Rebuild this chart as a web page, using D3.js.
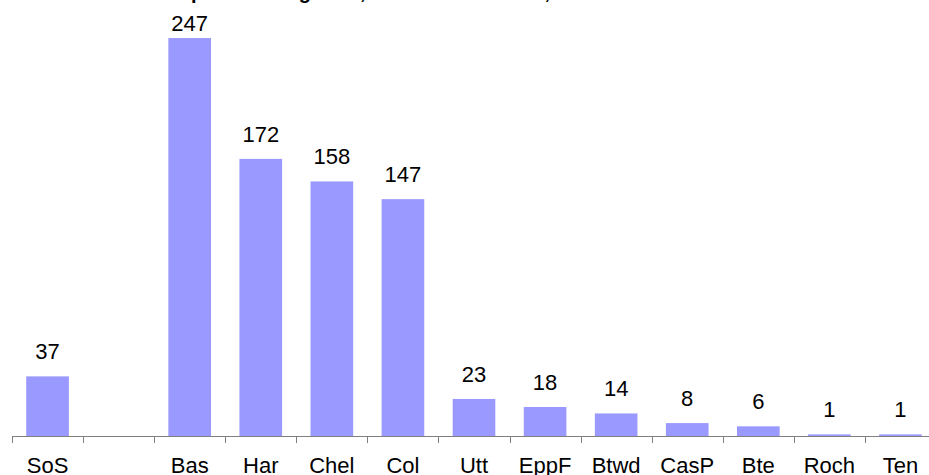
<!DOCTYPE html>
<html>
<head>
<meta charset="utf-8">
<script src="https://cdn.jsdelivr.net/npm/d3@7"></script>
<style>
  body { margin: 0; background: #fff; }
  svg { display: block; font-family: Arial, "Liberation Sans", sans-serif; }
</style>
</head>
<body>
<div id="chart"></div>
<script>
// data
const categories = ["SoS", "", "Bas", "Har", "Chel", "Col", "Utt", "EppF", "Btwd", "CasP", "Bte", "Roch", "Ten"]
const values = [37, null, 247, 172, 158, 147, 23, 18, 14, 8, 6, 1, 1]
const title = "Home improvement grants, 2008/09 to 2010/11, Essex districts"

const width = 929
const height = 475
const barColor = "#9999ff"
const axisColor = "#808080"

const svg = d3.select("#chart").append("svg")
  .attr("width", width)
  .attr("height", height)

// title sits mostly above the visible area, only descenders show
const titleText = svg.append("text")
  .attr("x", 0)
  .attr("y", -1)
  .attr("font-size", 20)
  .attr("font-weight", "bold")
  .attr("fill", "#000")
  .text(title)
const pIdx = title.indexOf("p")
const pX = titleText.node().getStartPositionOfChar(pIdx).x
titleText.attr("x", 191 - pX)

// scales
const xTicks = d3.scaleBand().domain(categories).range([12, 936]).padding(0)
const x = d3.scaleBand().domain(categories).range([12, 936]).paddingInner(0.4).paddingOuter(0.2)
const y = d3.scaleLinear().domain([0, 270]).range([436, 1])

const data = categories.map((c, i) => ({ cat: c, value: values[i] }))
  .filter(d => d.value != null)

// bars
svg.append("g")
  .selectAll("rect")
  .data(data)
  .join("rect")
  .attr("x", d => x(d.cat))
  .attr("width", x.bandwidth())
  .attr("y", d => y(d.value))
  .attr("height", d => y(0) - y(d.value))
  .attr("fill", barColor)

// value labels (clamped inside the plot like the original)
svg.append("g")
  .selectAll("text")
  .data(data)
  .join("text")
  .attr("x", d => x(d.cat) + x.bandwidth() / 2)
  .attr("y", d => Math.max(y(d.value) - 17, 31))
  .attr("text-anchor", "middle")
  .attr("font-size", 22)
  .attr("fill", "#000")
  .text(d => d.value)

// x axis: labels centred, ticks on band edges
const axis = svg.append("g")
  .attr("transform", `translate(0,${y(0)})`)
  .call(d3.axisBottom(xTicks).tickSize(0).tickSizeOuter(0).tickPadding(21))

axis.select(".domain").attr("stroke", axisColor)
axis.selectAll(".tick text")
  .attr("font-size", 22)
  .attr("font-family", "Arial, 'Liberation Sans', sans-serif")
  .attr("fill", "#000")

const edges = categories.map(c => xTicks(c)).concat([xTicks.range()[1]])
axis.append("g")
  .selectAll("line")
  .data(edges)
  .join("line")
  .attr("x1", d => Math.round(d) + 0.5)
  .attr("x2", d => Math.round(d) + 0.5)
  .attr("y1", 0)
  .attr("y2", 7)
  .attr("stroke", axisColor)
</script>
</body>
</html>
